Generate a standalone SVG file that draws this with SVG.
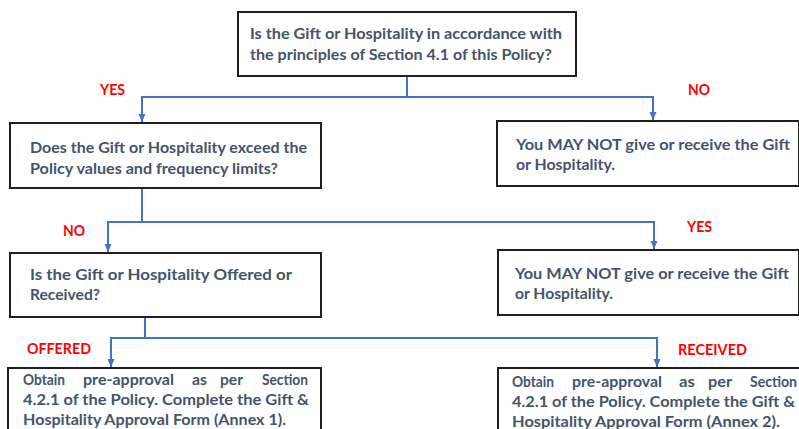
<svg xmlns="http://www.w3.org/2000/svg" width="799" height="429" viewBox="0 0 799 429">
<defs>
<marker id="arr" viewBox="0 0 8 8" refX="8" refY="4" markerWidth="8" markerHeight="8" markerUnits="userSpaceOnUse" orient="auto">
<path d="M0,0.5 L8,4 L0,7.5 Z" fill="#4472C4"/>
</marker>
<style>
.box{fill:#fff;stroke:#1f1f1f;stroke-width:2}
.t{font-family:Lato,"Liberation Sans",sans-serif;font-weight:bold;font-size:15px;fill:#44546A}
.lbl{font-family:Lato,"Liberation Sans",sans-serif;font-weight:bold;font-size:14.5px;fill:#FF0000}
.c{fill:none;stroke:#4472C4;stroke-width:2}
</style>
</defs>
<rect width="799" height="429" fill="#fff"/>
<g id="connectors">
<path class="c" d="M407,76 V97 H142 V122" marker-end="url(#arr)"/>
<path class="c" d="M407,97 H653 V120" marker-end="url(#arr)"/>
<path class="c" d="M142,189 V222 H108 V252" marker-end="url(#arr)"/>
<path class="c" d="M142,222 H654 V249" marker-end="url(#arr)"/>
<path class="c" d="M145,317 V338 H111 V367" marker-end="url(#arr)"/>
<path class="c" d="M145,338 H657 V367" marker-end="url(#arr)"/>
</g>
<g id="labels">
<text class="lbl" x="100" y="95" textLength="25" lengthAdjust="spacingAndGlyphs">YES</text>
<text class="lbl" x="688" y="95" textLength="22" lengthAdjust="spacingAndGlyphs">NO</text>
<text class="lbl" x="63" y="236" textLength="22" lengthAdjust="spacingAndGlyphs">NO</text>
<text class="lbl" x="687" y="232" textLength="25" lengthAdjust="spacingAndGlyphs">YES</text>
<text class="lbl" x="27" y="354" textLength="64" lengthAdjust="spacingAndGlyphs">OFFERED</text>
<text class="lbl" x="678" y="355" textLength="69" lengthAdjust="spacingAndGlyphs">RECEIVED</text>
</g>
<g id="q1">
<rect class="box" x="238" y="12" width="338" height="64"/>
<text class="t" x="250" y="39" textLength="312" lengthAdjust="spacingAndGlyphs">Is the Gift or Hospitality in accordance with</text>
<text class="t" x="250" y="60" textLength="302" lengthAdjust="spacingAndGlyphs">the principles of Section 4.1 of this Policy?</text>
</g>
<g id="q2">
<rect class="box" x="10" y="123" width="311" height="65"/>
<text class="t" x="30" y="153" textLength="277" lengthAdjust="spacingAndGlyphs">Does the Gift or Hospitality exceed the</text>
<text class="t" x="30" y="174" textLength="248" lengthAdjust="spacingAndGlyphs">Policy values and frequency limits?</text>
</g>
<g id="no1">
<rect class="box" x="497" y="121" width="302" height="65"/>
<text class="t" x="516" y="150" textLength="274" lengthAdjust="spacingAndGlyphs">You MAY NOT give or receive the Gift</text>
<text class="t" x="516" y="170" textLength="99" lengthAdjust="spacingAndGlyphs">or Hospitality.</text>
</g>
<g id="q3">
<rect class="box" x="10" y="253" width="311" height="64"/>
<text class="t" x="30" y="280" textLength="262" lengthAdjust="spacingAndGlyphs">Is the Gift or Hospitality Offered or</text>
<text class="t" x="30" y="300" textLength="70" lengthAdjust="spacingAndGlyphs">Received?</text>
</g>
<g id="no2">
<rect class="box" x="498" y="250" width="301" height="65"/>
<text class="t" x="515" y="279" textLength="274" lengthAdjust="spacingAndGlyphs">You MAY NOT give or receive the Gift</text>
<text class="t" x="515" y="299" textLength="98" lengthAdjust="spacingAndGlyphs">or Hospitality.</text>
</g>
<g id="offered">
<rect class="box" x="8" y="368" width="313" height="70"/>
<text class="t" x="23" y="385" textLength="42" lengthAdjust="spacingAndGlyphs">Obtain</text>
<text class="t" x="83" y="385" textLength="91" lengthAdjust="spacingAndGlyphs">pre-approval</text>
<text class="t" x="192" y="385" textLength="15" lengthAdjust="spacingAndGlyphs">as</text>
<text class="t" x="220" y="385" textLength="23" lengthAdjust="spacingAndGlyphs">per</text>
<text class="t" x="262" y="385" textLength="46" lengthAdjust="spacingAndGlyphs">Section</text>
<text class="t" x="23" y="405" textLength="286" lengthAdjust="spacingAndGlyphs">4.2.1 of the Policy. Complete the Gift &amp;</text>
<text class="t" x="23" y="425" textLength="263" lengthAdjust="spacingAndGlyphs">Hospitality Approval Form (Annex 1).</text>
</g>
<g id="received">
<rect class="box" x="498" y="368" width="303" height="70"/>
<text class="t" x="512" y="387" textLength="42" lengthAdjust="spacingAndGlyphs">Obtain</text>
<text class="t" x="572" y="387" textLength="90" lengthAdjust="spacingAndGlyphs">pre-approval</text>
<text class="t" x="679" y="387" textLength="16" lengthAdjust="spacingAndGlyphs">as</text>
<text class="t" x="708" y="387" textLength="24" lengthAdjust="spacingAndGlyphs">per</text>
<text class="t" x="750" y="387" textLength="47" lengthAdjust="spacingAndGlyphs">Section</text>
<text class="t" x="512" y="407" textLength="283" lengthAdjust="spacingAndGlyphs">4.2.1 of the Policy. Complete the Gift &amp;</text>
<text class="t" x="512" y="427" textLength="268" lengthAdjust="spacingAndGlyphs">Hospitality Approval Form (Annex 2).</text>
</g>
</svg>
